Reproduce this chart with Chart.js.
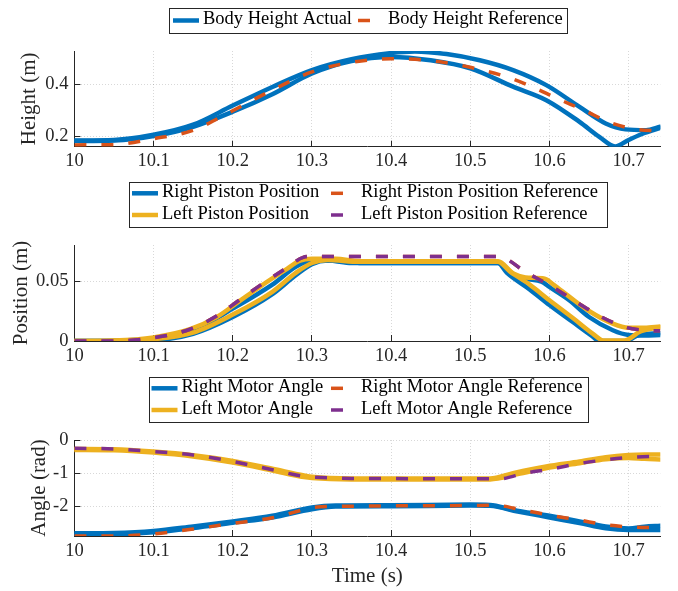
<!DOCTYPE html>
<html>
<head>
<meta charset="utf-8">
<script src="https://cdn.jsdelivr.net/npm/chart.js@4.4.1/dist/chart.umd.min.js"></script>
<style>
  body { margin: 0; background: #fff; }
  .panel { position: absolute; left: 0; width: 678px; }
</style>
</head>
<body>
<div class="panel" style="top:0;height:175px"><canvas id="heightChart"></canvas></div>
<div class="panel" style="top:175px;height:195px"><canvas id="pistonChart"></canvas></div>
<div class="panel" style="top:370px;height:221px"><canvas id="motorChart"></canvas></div>
<script>
// ---- axes / ticks ----
const timeMin = 10, timeMax = 10.74;
const timeTicks = [10, 10.1, 10.2, 10.3, 10.4, 10.5, 10.6, 10.7];
const timeTickLabels = ['10', '10.1', '10.2', '10.3', '10.4', '10.5', '10.6', '10.7'];

const heightMin = 0.159, heightMax = 0.529;
const heightTicks = [0.2, 0.4];
const heightTickLabels = ['0.2', '0.4'];

const pistonMin = 0, pistonMax = 0.08;
const pistonTicks = [0, 0.05];
const pistonTickLabels = ['0', '0.05'];

const angleMin = -2.9, angleMax = 0;
const angleTicks = [-2, -1, 0];
const angleTickLabels = ['-2', '-1', '0'];

// ---- body height (m) ----
const bodyRefT = [10, 10.05, 10.1, 10.15, 10.185, 10.2, 10.25, 10.3, 10.35, 10.4, 10.45, 10.5, 10.55, 10.58, 10.61, 10.645, 10.675, 10.71, 10.74];
const bodyRefV = [0.166, 0.167, 0.19, 0.222, 0.274, 0.298, 0.378, 0.448, 0.485, 0.499, 0.492, 0.466, 0.425, 0.388, 0.345, 0.298, 0.254, 0.226, 0.22];

const bodyActT1 = [10, 10.05, 10.1, 10.15, 10.2, 10.25, 10.3, 10.35, 10.4, 10.43, 10.47, 10.512, 10.554, 10.596, 10.638, 10.671, 10.696, 10.722, 10.74];
const bodyActV1 = [0.183, 0.185, 0.205, 0.244, 0.318, 0.39, 0.455, 0.497, 0.521, 0.527, 0.517, 0.493, 0.455, 0.397, 0.313, 0.249, 0.226, 0.223, 0.236];
const bodyActT2 = [10, 10.05, 10.1, 10.15, 10.2, 10.25, 10.3, 10.35, 10.4, 10.45, 10.5, 10.554, 10.596, 10.638, 10.663, 10.683, 10.7, 10.72, 10.74];
const bodyActV2 = [0.181, 0.183, 0.2, 0.236, 0.294, 0.362, 0.442, 0.49, 0.506, 0.493, 0.462, 0.391, 0.339, 0.255, 0.197, 0.16, 0.185, 0.212, 0.232];

// ---- piston position (m) ----
const pistonRefT = [10, 10.05, 10.109, 10.146, 10.18, 10.208, 10.236, 10.266, 10.289, 10.3, 10.535, 10.571, 10.604, 10.633, 10.663, 10.696, 10.72, 10.74];
const pistonRefV = [0, 0, 0.0037, 0.0098, 0.021, 0.034, 0.047, 0.06, 0.0697, 0.0705, 0.0705, 0.057, 0.045, 0.033, 0.021, 0.0115, 0.009, 0.0085];

const leftPistonT1 = [10, 10.05, 10.1, 10.146, 10.18, 10.208, 10.236, 10.266, 10.285, 10.3, 10.33, 10.36, 10.535, 10.555, 10.57, 10.594, 10.605, 10.625, 10.65, 10.68, 10.7, 10.72, 10.74];
const leftPistonV1 = [0, 0.0004, 0.003, 0.0098, 0.02, 0.033, 0.046, 0.059, 0.067, 0.0685, 0.0685, 0.0665, 0.0665, 0.056, 0.053, 0.052, 0.047, 0.037, 0.025, 0.0145, 0.011, 0.011, 0.012];
const leftPistonT2 = [10, 10.05, 10.1, 10.15, 10.2, 10.25, 10.28, 10.3, 10.32, 10.36, 10.535, 10.55, 10.575, 10.6, 10.63, 10.655, 10.668, 10.695, 10.715, 10.74];
const leftPistonV2 = [0, 0.0002, 0.0015, 0.007, 0.022, 0.041, 0.057, 0.065, 0.0675, 0.066, 0.066, 0.058, 0.047, 0.034, 0.019, 0.006, 0.0005, 0.0005, 0.008, 0.0115];

const rightPistonT1 = [10, 10.05, 10.1, 10.15, 10.2, 10.25, 10.28, 10.3, 10.35, 10.36, 10.535, 10.55, 10.57, 10.59, 10.6, 10.625, 10.65, 10.68, 10.7, 10.72, 10.74];
const rightPistonV1 = [0, 0.0002, 0.002, 0.009, 0.027, 0.047, 0.062, 0.067, 0.066, 0.065, 0.065, 0.057, 0.052, 0.0495, 0.045, 0.034, 0.02, 0.009, 0.005, 0.0045, 0.005];
const rightPistonT2 = [10, 10.05, 10.1, 10.15, 10.2, 10.25, 10.28, 10.3, 10.32, 10.35, 10.535, 10.546, 10.575, 10.6, 10.629, 10.654, 10.663, 10.696, 10.713, 10.74];
const rightPistonV2 = [0, 0, 0.0006, 0.006, 0.02, 0.039, 0.055, 0.064, 0.067, 0.065, 0.065, 0.057, 0.043, 0.03, 0.016, 0.004, 0, 0, 0.005, 0.0065];

// ---- motor angle (rad) ----
const leftRefT = [10, 10.05, 10.1, 10.15, 10.2, 10.25, 10.29, 10.3, 10.35, 10.537, 10.569, 10.604, 10.638, 10.674, 10.707, 10.74];
const leftRefV = [-0.25, -0.27, -0.35, -0.45, -0.65, -0.9, -1.1, -1.12, -1.16, -1.17, -1.0, -0.87, -0.71, -0.59, -0.515, -0.49];
const leftMotorT1 = [10, 10.05, 10.1, 10.15, 10.2, 10.25, 10.29, 10.3, 10.35, 10.525, 10.554, 10.596, 10.638, 10.671, 10.7, 10.72, 10.74];
const leftMotorV1 = [-0.27, -0.28, -0.35, -0.46, -0.63, -0.87, -1.07, -1.11, -1.16, -1.16, -1.0, -0.8, -0.65, -0.52, -0.455, -0.44, -0.44];
const leftMotorT2 = [10, 10.05, 10.1, 10.15, 10.2, 10.25, 10.29, 10.3, 10.35, 10.525, 10.56, 10.6, 10.638, 10.671, 10.7, 10.72, 10.74];
const leftMotorV2 = [-0.3, -0.31, -0.38, -0.5, -0.68, -0.92, -1.12, -1.15, -1.19, -1.19, -1.03, -0.83, -0.7, -0.58, -0.54, -0.57, -0.59];

const rightRefT = [10, 10.05, 10.1, 10.15, 10.2, 10.25, 10.29, 10.3, 10.35, 10.5, 10.53, 10.567, 10.6, 10.638, 10.671, 10.705, 10.74];
const rightRefV = [-2.9, -2.9, -2.84, -2.69, -2.52, -2.35, -2.1, -2.04, -2.0, -1.98, -1.97, -2.12, -2.27, -2.42, -2.56, -2.63, -2.65];
const rightMotorT1 = [10, 10.05, 10.1, 10.15, 10.2, 10.25, 10.3, 10.33, 10.4, 10.5, 10.525, 10.554, 10.6, 10.638, 10.671, 10.7, 10.72, 10.74];
const rightMotorV1 = [-2.82, -2.81, -2.75, -2.61, -2.46, -2.29, -2.04, -1.98, -1.97, -1.95, -1.96, -2.11, -2.29, -2.46, -2.61, -2.67, -2.62, -2.59];
const rightMotorT2 = [10, 10.05, 10.1, 10.15, 10.2, 10.25, 10.3, 10.33, 10.4, 10.5, 10.525, 10.56, 10.6, 10.638, 10.671, 10.7, 10.72, 10.74];
const rightMotorV2 = [-2.86, -2.85, -2.79, -2.66, -2.5, -2.34, -2.09, -2.01, -2.0, -1.98, -1.99, -2.16, -2.34, -2.51, -2.67, -2.72, -2.72, -2.72];

// MATLAB default colours
const blue = '#0072BD', orange = '#D95319', yellow = '#EDB120', purple = '#7E2F8E';
const ink = '#262626';
const serif = 'Liberation Serif';

Chart.defaults.font.family = serif;
Chart.defaults.color = ink;

function pts(t, v) {
    return t.map((x, i) => ({ x: x, y: v[i] }));
}

function actual(label, t, v, color) {
    return { label: label, data: pts(t, v), borderColor: color, borderWidth: 4.5,
             borderCapStyle: 'round', borderJoinStyle: 'round' };
}

function reference(label, t, v, color) {
    return { label: label, data: pts(t, v), borderColor: color, borderWidth: 3.5,
             borderDash: [12, 15], borderCapStyle: 'butt' };
}

// legend box like the MATLAB one: drawn from the dataset styles
function makeLegend(cfg) {
    return {
        id: 'matlabLegend',
        afterDraw(chart) {
            const ctx = chart.ctx;
            const [bx, by, bw, bh] = cfg.box;
            ctx.save();
            ctx.fillStyle = '#fff';
            ctx.fillRect(bx, by, bw, bh);
            ctx.strokeStyle = ink;
            ctx.lineWidth = 1;
            ctx.strokeRect(Math.round(bx) + 0.5, Math.round(by) + 0.5, Math.round(bw), Math.round(bh));
            ctx.font = '18.5px "' + serif + '"';
            ctx.textBaseline = 'middle';
            cfg.items.forEach((name, i) => {
                const ds = chart.data.datasets.find(d => d.label === name);
                const [sx, cy] = cfg.slots[i];
                ctx.beginPath();
                ctx.strokeStyle = ds.borderColor;
                ctx.lineWidth = ds.borderWidth;
                ctx.lineCap = 'butt';
                ctx.setLineDash(ds.borderDash || []);
                ctx.moveTo(sx, cy + 1);
                ctx.lineTo(sx + 26, cy + 1);
                ctx.stroke();
                ctx.setLineDash([]);
                ctx.fillStyle = '#000';
                ctx.fillText(name, sx + 30, cy);
            });
            ctx.restore();
        }
    };
}

function axisCommon() {
    return {
        type: 'linear',
        border: { color: ink, width: 1, dash: [1, 2] },
        grid: { color: 'rgba(38,38,38,0.18)', lineWidth: 1, drawTicks: true, tickLength: -6,
                tickColor: ink, tickWidth: 1, tickBorderDash: [] },
        ticks: { color: ink, font: { family: serif, size: 18.5 }, autoSkip: false, maxRotation: 0 }
    };
}

function makeChart(id, cfg) {
    const x = axisCommon();
    x.min = timeMin; x.max = timeMax;
    x.ticks.padding = 9.6;
    x.ticks.callback = (v, i) => timeTickLabels[i];
    x.afterBuildTicks = s => { s.ticks = timeTicks.map(v => ({ value: v })); };
    x.afterFit = s => { s.height = cfg.xAxisHeight; };
    x.title = cfg.xTitle ? { display: true, text: cfg.xTitle, color: ink,
                              font: { family: serif, size: 21 }, padding: { top: 0, bottom: 2.4 } }
                         : { display: false };

    const y = axisCommon();
    y.min = cfg.yMin; y.max = cfg.yMax;
    y.ticks.padding = 12;
    y.ticks.callback = (v, i) => cfg.yLabels[i];
    y.afterBuildTicks = s => { s.ticks = cfg.yTicks.map(v => ({ value: v })); };
    y.afterFit = s => { s.width = 74.4; };
    y.title = { display: true, text: cfg.yTitle, color: ink, font: { family: serif, size: 21 },
                padding: { top: cfg.yTitlePad, bottom: 0 } };

    return new Chart(document.getElementById(id), {
        type: 'line',
        data: { datasets: cfg.datasets },
        options: {
            responsive: true,
            maintainAspectRatio: false,
            animation: false,
            layout: { padding: { top: cfg.padTop, right: 17.7, bottom: 0, left: 0 }, autoPadding: false },
            elements: { point: { radius: 0 }, line: { cubicInterpolationMode: 'monotone' } },
            plugins: { legend: { display: false }, tooltip: { enabled: false } },
            scales: { x: x, y: y }
        },
        plugins: [makeLegend(cfg.legend)]
    });
}

// dataset index 0 is drawn on top
makeChart('heightChart', {
    padTop: 51, xAxisHeight: 28.3,
    yMin: heightMin, yMax: heightMax, yTicks: heightTicks, yLabels: heightTickLabels,
    yTitle: 'Height (m)', yTitlePad: 16.4,
    datasets: [
        reference('Body Height Reference', bodyRefT, bodyRefV, orange),
        actual('Body Height Actual', bodyActT1, bodyActV1, blue),
        actual('Body Height Actual (2)', bodyActT2, bodyActV2, blue)
    ],
    legend: { box: [169, 8, 398, 24.5],
              items: ['Body Height Actual', 'Body Height Reference'],
              slots: [[173, 19.5], [358, 19.5]] }
});

makeChart('pistonChart', {
    padTop: 70, xAxisHeight: 29,
    yMin: pistonMin, yMax: pistonMax, yTicks: pistonTicks, yLabels: pistonTickLabels,
    yTitle: 'Position (m)', yTitlePad: 9.1,
    datasets: [
        reference('Left Piston Position Reference', pistonRefT, pistonRefV, purple),
        reference('Right Piston Position Reference', pistonRefT, pistonRefV, orange),
        actual('Left Piston Position', leftPistonT1, leftPistonV1, yellow),
        actual('Left Piston Position (2)', leftPistonT2, leftPistonV2, yellow),
        actual('Right Piston Position', rightPistonT1, rightPistonV1, blue),
        actual('Right Piston Position (2)', rightPistonT2, rightPistonV2, blue)
    ],
    legend: { box: [129, 6.7, 478, 45],
              items: ['Right Piston Position', 'Right Piston Position Reference',
                      'Left Piston Position', 'Left Piston Position Reference'],
              slots: [[132, 17.3], [331, 17.3], [132, 39], [331, 39]] }
});

makeChart('motorChart', {
    padTop: 70, xAxisHeight: 55, xTitle: 'Time (s)',
    yMin: angleMin, yMax: angleMax, yTicks: angleTicks, yLabels: angleTickLabels,
    yTitle: 'Angle (rad)', yTitlePad: 27,
    datasets: [
        reference('Left Motor Angle Reference', leftRefT, leftRefV, purple),
        reference('Right Motor Angle Reference', rightRefT, rightRefV, orange),
        actual('Left Motor Angle', leftMotorT1, leftMotorV1, yellow),
        actual('Left Motor Angle (2)', leftMotorT2, leftMotorV2, yellow),
        actual('Right Motor Angle', rightMotorT1, rightMotorV1, blue),
        actual('Right Motor Angle (2)', rightMotorT2, rightMotorV2, blue)
    ],
    legend: { box: [148.5, 6.7, 439, 45],
              items: ['Right Motor Angle', 'Right Motor Angle Reference',
                      'Left Motor Angle', 'Left Motor Angle Reference'],
              slots: [[151.5, 17.3], [331, 17.3], [151.5, 39], [331, 39]] }
});
</script>
</body>
</html>
